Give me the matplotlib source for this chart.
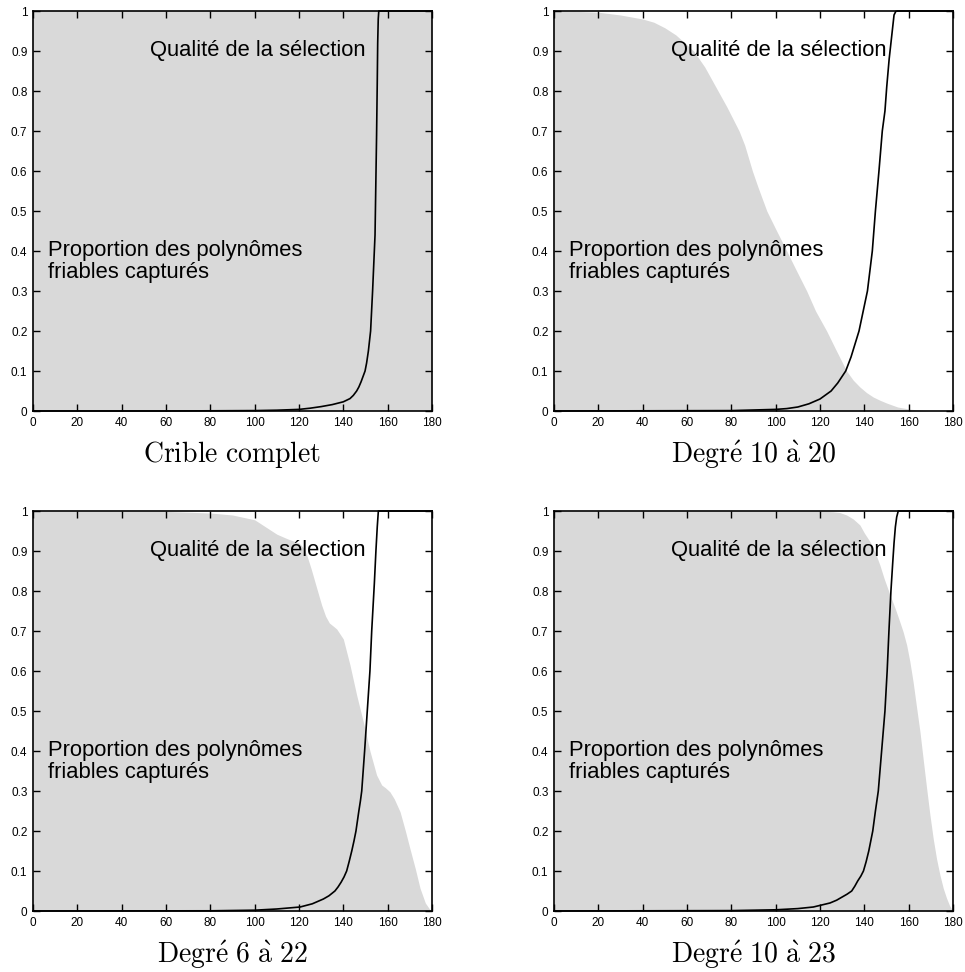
import matplotlib
matplotlib.use('Agg')
import matplotlib.pyplot as plt

plt.rcParams['font.family'] = ['Liberation Sans', 'DejaVu Sans']
plt.rcParams['mathtext.fontset'] = 'cm'

# panel titles (rendered with mathtext / Computer Modern)
titles = [r'$\mathrm{Crible\ complet}$',
          r'$\mathrm{Degr\acute{e}\ 10\ \grave{a}\ 20}$',
          r'$\mathrm{Degr\acute{e}\ 6\ \grave{a}\ 22}$',
          r'$\mathrm{Degr\acute{e}\ 10\ \grave{a}\ 23}$']

# Proportion des polynomes friables captures (grey area)
fill_x_complet = [0, 180]
fill_y_complet = [1.0, 1.0]
fill_x_10_20 = [0, 10, 20, 30, 40, 45, 50, 55, 58, 63, 68, 74, 78, 83.5, 86, 89.5, 92, 96, 100, 105,
                109, 114, 118, 123, 127, 132, 135, 138, 141, 144, 147, 150, 155, 160, 165, 170, 180]
fill_y_10_20 = [1.0, 0.999, 0.997, 0.99, 0.98, 0.972, 0.958, 0.94, 0.925, 0.9, 0.86, 0.8, 0.76, 0.7, 0.665, 0.6,
                0.56, 0.5, 0.455, 0.4, 0.355, 0.3, 0.25, 0.2, 0.155, 0.1, 0.077, 0.06, 0.046, 0.035, 0.027, 0.02,
                0.01, 0.005, 0.002, 0, 0]
fill_x_6_22 = [0, 60, 80, 90, 100, 105, 110, 115, 120, 122, 123.5, 125.5, 128, 130.2, 132, 133.7, 135.5, 137, 140,
               143, 146, 149, 152, 155, 157.3, 159, 161, 163, 165.6, 168, 170, 172.5, 174.6, 177, 179.5, 180]
fill_y_6_22 = [1.0, 0.999, 0.995, 0.99, 0.978, 0.96, 0.942, 0.93, 0.92, 0.908, 0.89, 0.855, 0.807, 0.765, 0.737,
               0.72, 0.712, 0.705, 0.68, 0.615, 0.54, 0.473, 0.40, 0.34, 0.315, 0.308, 0.298, 0.28, 0.248, 0.2,
               0.157, 0.105, 0.057, 0.02, 0, 0]
fill_x_10_23 = [0, 120, 126, 129, 132, 135, 138, 140, 142.6, 145, 147, 149, 151.6, 154, 156, 157.5, 159.1, 160.5,
                162, 163.5, 165.1, 166.6, 168.1, 169.6, 171.1, 172.6, 174.1, 175.6, 177.1, 178.5, 180]
fill_y_10_23 = [1.0, 1.0, 0.998, 0.996, 0.99, 0.98, 0.965, 0.945, 0.923, 0.895, 0.865, 0.83, 0.79, 0.755, 0.723,
                0.698, 0.665, 0.625, 0.573, 0.512, 0.448, 0.377, 0.307, 0.24, 0.18, 0.13, 0.09, 0.057, 0.032,
                0.013, 0]

# Qualite de la selection (black curve)
line_x_complet = [0, 60, 80, 100, 110, 120, 125, 130, 135, 140, 143, 144.5, 146, 147, 148, 149.8, 150.5, 151.3,
                  151.8, 152.3, 153.2, 154.3, 155.0, 155.3, 155.5, 155.75, 156.0, 180]
line_y_complet = [0, 0, 0.0005, 0.001, 0.002, 0.004, 0.007, 0.011, 0.016, 0.023, 0.031, 0.039, 0.05, 0.06,
                  0.073, 0.10, 0.12, 0.15, 0.175, 0.20, 0.30, 0.44, 0.69, 0.82, 0.92, 0.98, 1.0, 1.0]
line_x_10_20 = [0, 80, 100, 105, 110, 115, 120, 125, 128, 131.6, 134, 137.6, 139.5, 141.4, 143.6, 145, 146.6,
                148.1, 149.3, 150.1, 151.2, 152.3, 153.4, 154.2, 155, 180]
line_y_10_20 = [0, 0.001, 0.004, 0.006, 0.01, 0.018, 0.03, 0.05, 0.07, 0.1, 0.135, 0.2, 0.25, 0.3, 0.4, 0.5,
                0.6, 0.7, 0.75, 0.81, 0.88, 0.935, 0.99, 0.999, 1.0, 1.0]
line_x_6_22 = [0, 80, 100, 110, 120.5, 126, 131, 133.5, 136.2, 137.6, 139, 140.3, 141.5, 142.6, 143.8, 144.8,
               145.7, 147, 147.7, 148.3, 149.6, 150.8, 152, 152.8, 154, 154.7, 155.3, 155.8, 180]
line_y_6_22 = [0, 0.0005, 0.002, 0.005, 0.01, 0.018, 0.03, 0.038, 0.05, 0.06, 0.072, 0.085, 0.1, 0.123, 0.15,
               0.175, 0.2, 0.25, 0.275, 0.3, 0.4, 0.5, 0.6, 0.7, 0.82, 0.9, 0.96, 1.0, 1.0]
line_x_10_23 = [0, 80, 100, 110, 117, 124.5, 127.5, 130, 132.2, 134.3, 135.7, 137, 138.4, 139.6, 140.8, 142,
                143.8, 145, 146.3, 147.8, 149.3, 150.3, 151.1, 152, 152.8, 153.4, 154.0, 154.6, 155.3, 180]
line_y_10_23 = [0, 0.001, 0.003, 0.006, 0.01, 0.02, 0.027, 0.035, 0.042, 0.05, 0.062, 0.075, 0.087, 0.1,
                0.123, 0.15, 0.2, 0.25, 0.3, 0.4, 0.5, 0.6, 0.7, 0.8, 0.87, 0.92, 0.96, 0.985, 1.0, 1.0]

fills = [(fill_x_complet, fill_y_complet), (fill_x_10_20, fill_y_10_20),
         (fill_x_6_22, fill_y_6_22), (fill_x_10_23, fill_y_10_23)]
lines = [(line_x_complet, line_y_complet), (line_x_10_20, line_y_10_20),
         (line_x_6_22, line_y_6_22), (line_x_10_23, line_y_10_23)]

x_ticks = list(range(0, 181, 20))
y_ticks = [0, 0.1, 0.2, 0.3, 0.4, 0.5, 0.6, 0.7, 0.8, 0.9, 1]
y_tick_labels = ['0', '0.1', '0.2', '0.3', '0.4', '0.5', '0.6', '0.7', '0.8', '0.9', '1']

W, H = 965, 972
fig = plt.figure(figsize=(W / 100, H / 100), dpi=100)

# axes boxes in pixels: left, top
boxes = [(33, 11), (554, 11), (33, 511), (554, 511)]
aw, ah = 399, 400

for i, (left, top) in enumerate(boxes):
    ax = fig.add_axes([left / W, 1 - (top + ah) / H, aw / W, ah / H])
    fx, fy = fills[i]
    lx, ly = lines[i]
    ax.fill_between(fx, 0, fy, color='#d9d9d9', linewidth=0, zorder=1)
    ax.plot(lx, ly, color='black', linewidth=1.2, zorder=3, clip_on=False)

    ax.set_xlim(0, 180)
    ax.set_ylim(0, 1)
    ax.set_xticks(x_ticks)
    ax.set_yticks(y_ticks)
    ax.set_yticklabels(y_tick_labels)
    ax.tick_params(direction='in', top=True, right=True, length=5, width=1,
                   labelsize=8.5, pad=4)
    for s in ax.spines.values():
        s.set_linewidth(1.2)
        s.set_zorder(4)

    ax.text(53, 0.888, 'Qualité de la sélection', fontsize=15.8,
            ha='left', va='baseline', zorder=5)
    ax.text(6.6, 0.3875, 'Proportion des polynômes', fontsize=15.8,
            ha='left', va='baseline', zorder=5)
    ax.text(6.6, 0.333, 'friables capturés', fontsize=15.8,
            ha='left', va='baseline', zorder=5)

    ax.text(0.5, -0.108, titles[i], transform=ax.transAxes, fontsize=20,
            ha='center', va='center')

fig.savefig('out.png', dpi=100)
